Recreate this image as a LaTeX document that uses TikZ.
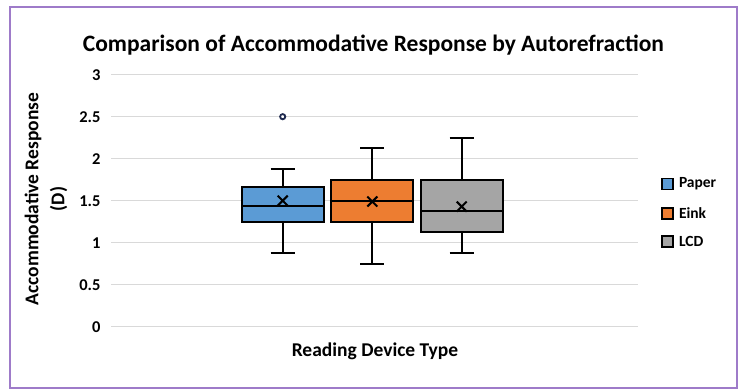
\documentclass[tikz,border=0pt]{standalone}
\usepackage{fontspec}
\setmainfont{Carlito}
\usetikzlibrary{positioning}
\definecolor{framepurple}{HTML}{9E7BC9}
\definecolor{gridgray}{HTML}{D9D9D9}
\definecolor{paperblue}{HTML}{5B9BD5}
\definecolor{einkorange}{HTML}{ED7D31}
\definecolor{lcdgray}{HTML}{A5A5A5}
\definecolor{outliernavy}{HTML}{1F2A4F}

\begin{document}
\begin{tikzpicture}[x=1pt, y=1pt, font=\bfseries,
  gridline/.style={draw=gridgray, line width=1.2pt},
  whisker/.style={draw=black, line width=1.7pt},
  iqrbox/.style={draw=black, line width=1.9pt},
  meanmark/.style={draw=black, line width=2pt},
  outlier/.style={draw=outliernavy, fill=white, line width=1.8pt},
  ticklabel/.style={anchor=east, font=\fontsize{16.5}{18}\selectfont\bfseries},
  legendkey/.style={draw=black, line width=1.6pt, minimum size=11pt, inner sep=0pt},
  legendtext/.style={font=\fontsize{15.5}{18}\selectfont\bfseries, inner sep=1pt}]

  \useasboundingbox (0,0) rectangle (741,389);
  \draw[framepurple, line width=2pt] (10,1.3) rectangle (736.7,382);

  \node[anchor=base] (title) at (373.5,337.3) {\fontsize{23.5}{27}\selectfont\bfseries Comparison of Accommodative Response by Autorefraction};
  \node[anchor=base] (xtitle) at (375,32.3) {\fontsize{19.5}{22}\selectfont\bfseries Reading Device Type};
  \node[rotate=90, align=center, font=\fontsize{19.5}{26}\selectfont\bfseries] (ytitle) at (46,190) {Accommodative Response\\(D)};

  \begin{scope}[shift={(0,62.3)}, y=84pt]
    % grid and tick labels
    \foreach \v/\lbl in {0/0, 0.5/0.5, 1/1, 1.5/1.5, 2/2, 2.5/2.5, 3/3} {
      \draw[gridline] (111,\v) -- (638,\v);
      \node[ticklabel] (tick\lbl) at (104,\v) {\lbl};
    }

    % boxes: centre / low / q1 / median / q3 / high / mean / colour
    \foreach \cx/\lo/\qa/\med/\qb/\hi/\mean/\col in {
        282.7/0.875/1.25/1.44/1.66/1.875/1.5/paperblue,
        372.3/0.75/1.25/1.5/1.75/2.125/1.49/einkorange,
        461.7/0.875/1.125/1.38/1.75/2.25/1.43/lcdgray} {
      \draw[whisker] (\cx,\lo) -- (\cx,\hi);
      \draw[whisker] (\cx-12,\lo) -- (\cx+12,\lo);
      \draw[whisker] (\cx-12,\hi) -- (\cx+12,\hi);
      \draw[iqrbox, fill=\col] (\cx-41,\qa) rectangle (\cx+41,\qb);
      \draw[iqrbox] (\cx-41,\med) -- (\cx+41,\med);
      \draw[meanmark] (\cx,\mean) ++(-5pt,-5pt) -- ++(10pt,10pt) ++(-10pt,0pt) -- ++(10pt,-10pt);
    }
    \draw[outlier] (282.7,2.5) circle (2.6pt);
  \end{scope}

  % legend
  \node[legendkey, fill=paperblue] (keypaper) at (667.5,205) {};
  \node[legendkey, fill=einkorange] (keyeink) at (667.5,175.7) {};
  \node[legendkey, fill=lcdgray] (keylcd) at (667.5,147.3) {};
  \node[legendtext, right=4pt of keypaper] (txtpaper) {Paper};
  \node[legendtext, right=4pt of keyeink] (txteink) {Eink};
  \node[legendtext, right=4pt of keylcd] (txtlcd) {LCD};
\end{tikzpicture}
\end{document}
